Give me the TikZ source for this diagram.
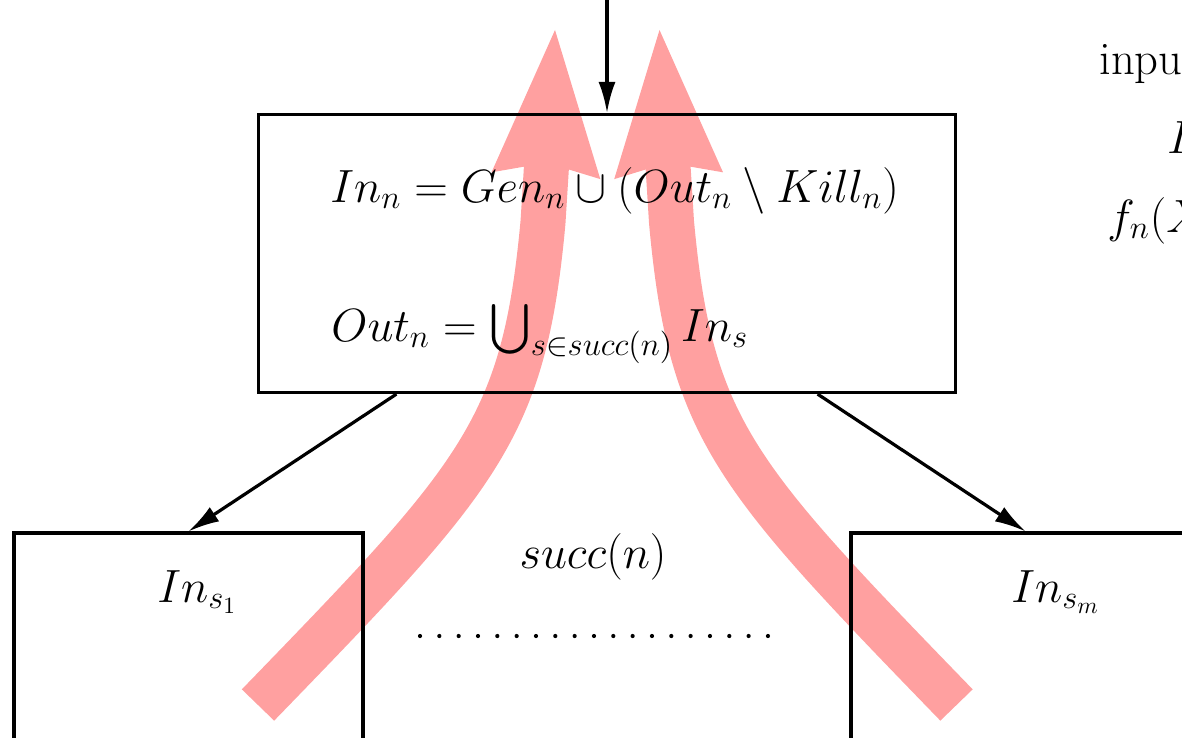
\RequirePackage{fix-cm}
\documentclass[tikz,border=0pt]{standalone}
\usepackage{amsmath}
\usetikzlibrary{arrows.meta}
\definecolor{flowpink}{RGB}{255,160,160}
\begin{document}
\begin{tikzpicture}[x=0.5pt,y=-0.5pt,
  font=\fontsize{23.3}{28}\selectfont,
  box/.style={draw, line width=1.6pt, inner sep=0pt},
  conn/.style={line width=1.6pt, -{Latex[length=15.5pt,width=8.5pt]}},
  flowarrow/.style={flowpink, line width=22.5pt,
    -{Stealth[length=73pt,width=54.5pt,inset=6.5pt,line width=0pt]}},
  lbl/.style={inner sep=0pt, anchor=base west},
  dot/.style={fill=black}]
\useasboundingbox (0,0) rectangle (1182,738);

% pink flow arrows (behind everything)
\coordinate (la) at (258,705);
\coordinate (lc1) at (479.6,476.2);
\coordinate (lc2) at (523.9,430.4);
\coordinate (ld) at (543,222.1);
\coordinate (lt) at (555,30);
\coordinate (ra) at (956.5,705);
\coordinate (rc1) at (734.9,476.2);
\coordinate (rc2) at (690.6,430.4);
\coordinate (rd) at (671.5,222.1);
\coordinate (rt) at (659.5,30);
\draw[flowarrow] (la) .. controls (lc1) and (lc2) .. (ld) -- (lt);
\draw[flowarrow] (ra) .. controls (rc1) and (rc2) .. (rd) -- (rt);

% boxes
\node[box, minimum width=348.5pt, minimum height=139pt] (main) at (607,253.5) {};
\node[box, minimum width=174.5pt, minimum height=135pt] (left) at (188.5,668) {};
\node[box, minimum width=174.5pt, minimum height=135pt] (right) at (1025.5,668) {};

% formulas
\node[lbl] (eqin) at (330,202) {$In_n = Gen_n \cup (Out_n \setminus Kill_n)$};
\node[lbl] (eqout) at (331,341) {$Out_n = \bigcup_{s\in succ(n)} In_s$};
\node[lbl] (ins1) at (157,602) {$In_{s_1}$};
\node[lbl] (insm) at (1011,602) {$In_{s_m}$};
\node[inner sep=0pt, anchor=base] (succ) at (593,568) {$succ(n)$};

% text on the right, cut by the picture's edge as in the reference
\node[lbl] (inp) at (1099,75) {input};
\node[lbl] (iline) at (1167,154) {$I$};
\node[lbl] (fline) at (1107,232) {$f_n(X$};

% dotted row
\foreach \i in {0,...,18} {
  \fill[dot] (420+\i*19.33,636) circle (1.05pt);
}

% connectors
\draw[conn] ([yshift=62pt]main.north) -- (main.north);
\draw[conn] ([xshift=69.75pt]main.south west) -- (left.north);
\draw[conn] ([xshift=-69.75pt]main.south east) -- (right.north);
\end{tikzpicture}
\end{document}
